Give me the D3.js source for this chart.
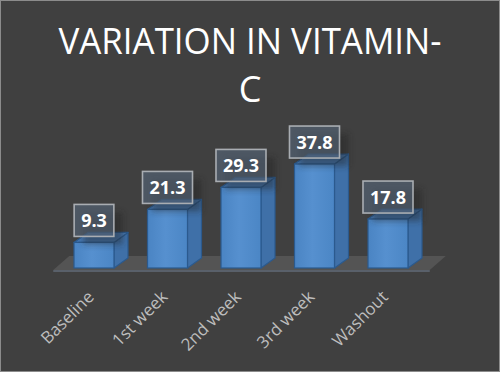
<!DOCTYPE html>
<html><head><meta charset="utf-8">
<script src="https://cdn.jsdelivr.net/npm/d3@7"></script>
<style>
html,body{margin:0;padding:0;background:#404040;}
svg{display:block;}
</style></head>
<body>
<script>
const categories = ["Baseline", "1st week", "2nd week", "3rd week", "Washout"];
const values = [9.3, 21.3, 29.3, 37.8, 17.8];
const valueLabels = ["9.3", "21.3", "29.3", "37.8", "17.8"];
const titleLines = ["VARIATION IN VITAMIN-", "C"];

const W = 500, H = 372;
const svg = d3.select("body").append("svg").attr("width", W).attr("height", H);
const defs = svg.append("defs");
defs.append("filter").attr("id", "blur").attr("x", "-50%").attr("y", "-50%").attr("width", "200%").attr("height", "200%")
  .append("feGaussianBlur").attr("stdDeviation", 3);
const grad = defs.append("linearGradient").attr("id", "front").attr("x1", 0).attr("x2", 1).attr("y1", 0).attr("y2", 0);
grad.append("stop").attr("offset", "0%").attr("stop-color", "#4a84c3");
grad.append("stop").attr("offset", "45%").attr("stop-color", "#5690cf");
grad.append("stop").attr("offset", "100%").attr("stop-color", "#4b86c5");

svg.append("rect").attr("x", 0.5).attr("y", 0.5).attr("width", W - 1).attr("height", H - 1)
  .attr("fill", "#404040").attr("stroke", "#8c8c8c");

// title
const title = svg.append("g");
const titleY = [54, 102];
titleLines.forEach((t, i) => {
  const el = title.append("text").attr("x", 250).attr("y", titleY[i]).attr("text-anchor", "middle")
    .attr("font-family", "Open Sans, sans-serif").attr("font-size", 36).attr("fill", "#ffffff").text(t);
  if (i === 0) el.attr("textLength", 383).attr("lengthAdjust", "spacingAndGlyphs");
});

const x = d3.scaleBand().domain(categories).range([57.25, 424.75]).paddingInner(0.456).paddingOuter(0.228);
const y = d3.scaleLinear().domain([0, 40]).range([268, 158]);
const dx = 14, dy = -10;

// floor
const fx0 = x.range()[0] - 4, fx1 = x.range()[1] + 5, fy = 270;
svg.append("path").attr("d", `M${fx0},${fy} L${fx1},${fy} L${fx1 + 16},${fy - 14} L${fx0 + 16},${fy - 14} Z`)
  .attr("fill", "#545454");
svg.append("line").attr("x1", fx0).attr("x2", fx1).attr("y1", fy + 1).attr("y2", fy + 1)
  .attr("stroke", "#59606a").attr("stroke-width", 2);

const bars = svg.append("g").selectAll("g").data(categories).join("g");
bars.each(function (c, i) {
  const g = d3.select(this);
  const x0 = x(c), x1 = x0 + x.bandwidth(), yt = y(values[i]), yb = y(0);
  g.append("path").attr("d", `M${x1},${yt} L${x1 + dx},${yt + dy} L${x1 + dx},${yb + dy} L${x1},${yb} Z`)
    .attr("fill", "#3f70a8").attr("stroke", "#2b5a8e").attr("stroke-width", 1.2).attr("stroke-linejoin", "round");
  g.append("path").attr("d", `M${x0},${yt} L${x0 + dx},${yt + dy} L${x1 + dx},${yt + dy} L${x1},${yt} Z`)
    .attr("fill", "#4679b4").attr("stroke", "#2b5a8e").attr("stroke-width", 1.2).attr("stroke-linejoin", "round");
  g.append("rect").attr("x", x0).attr("y", yt).attr("width", x.bandwidth()).attr("height", yb - yt)
    .attr("fill", "url(#front)").attr("stroke", "#2b5a8e").attr("stroke-width", 1.2);
});

// value labels
const labels = svg.append("g").selectAll("g").data(categories).join("g");
labels.each(function (c, i) {
  const g = d3.select(this);
  const cx = x(c) + x.bandwidth() / 2;
  const bottom = y(values[i]) - 6;
  const h = 32;
  const txt = g.append("text").attr("x", cx).attr("y", bottom - h / 2 + 6.5).attr("text-anchor", "middle")
    .attr("font-family", "Open Sans, sans-serif").attr("font-weight", "bold").attr("font-size", 18)
    .attr("fill", "#ffffff").text(valueLabels[i]);
  const tw = txt.node().getComputedTextLength();
  const bw = tw + 14;
  g.insert("rect", "text").attr("x", cx - bw / 2 + 9).attr("y", bottom - h + 8).attr("width", bw).attr("height", h)
    .attr("fill", "#222").attr("opacity", 0.45).attr("filter", "url(#blur)");
  g.insert("rect", "text").attr("x", cx - bw / 2).attr("y", bottom - h).attr("width", bw).attr("height", h)
    .attr("fill", "rgba(90,108,130,0.55)").attr("stroke", "#a9adb2").attr("stroke-width", 1.6);
});

// category labels
svg.append("g").selectAll("text").data(categories).join("text")
  .attr("transform", c => `translate(${x(c) + x.bandwidth() / 2 + 1},298) rotate(-45)`)
  .attr("text-anchor", "end")
  .attr("font-family", "Open Sans, sans-serif").attr("font-size", 17).attr("fill", "#bdbdbd")
  .text(c => c);
</script>
</body></html>
